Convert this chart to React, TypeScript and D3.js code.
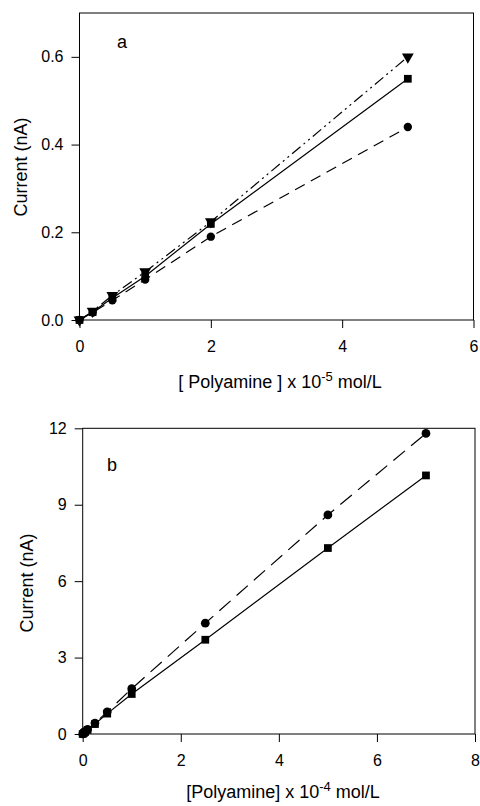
import React, { useRef, useEffect } from 'react';
import * as d3 from 'd3';

// panel a: [Polyamine] x 10^-5 mol/L vs current (nA)
const concA = [0, 0.2, 0.5, 1, 2, 5];
const triA = [0, 0.02, 0.056, 0.11, 0.224, 0.6];
const sqA = [0, 0.018, 0.05, 0.1, 0.219, 0.55];
const cirA = [0, 0.017, 0.045, 0.092, 0.19, 0.44];
const xTicksA = [0, 2, 4, 6];
const yTicksA = [0, 0.2, 0.4, 0.6];

// panel b: [Polyamine] x 10^-4 mol/L vs current (nA)
const concB = [0, 0.025, 0.05, 0.1, 0.25, 0.5, 1, 2.5, 5, 7];
const sqB = [0, 0.04, 0.08, 0.16, 0.39, 0.8, 1.57, 3.7, 7.3, 10.15];
const cirB = [0, 0.05, 0.09, 0.18, 0.43, 0.87, 1.78, 4.35, 8.6, 11.8];
const xTicksB = [0, 2, 4, 6, 8];
const yTicksB = [0, 3, 6, 9, 12];

const font = 'Arial, "Liberation Sans", sans-serif';

function drawPanel(g, opt) {
  const x = d3.scaleLinear().domain(opt.xDomain).range([opt.left, opt.right]);
  const y = d3.scaleLinear().domain(opt.yDomain).range([opt.bottom, opt.top]);

  g.append('rect')
    .attr('x', opt.left).attr('y', opt.top)
    .attr('width', opt.right - opt.left).attr('height', opt.bottom - opt.top)
    .attr('fill', 'none').attr('stroke', '#000').attr('stroke-width', 1);

  const xa = g.append('g')
    .attr('transform', 'translate(0,' + opt.bottom + ')')
    .call(d3.axisBottom(x).tickValues(opt.xTicks).tickSize(8).tickPadding(13).tickFormat(d3.format('d')));
  const ya = g.append('g')
    .attr('transform', 'translate(' + opt.left + ',0)')
    .call(d3.axisLeft(y).tickValues(opt.yTicks).tickSize(8).tickPadding(8).tickFormat(opt.yFormat));
  [xa, ya].forEach(a => {
    a.select('.domain').remove();
    a.selectAll('text').attr('font-size', 16).attr('font-family', font).attr('fill', '#000');
    a.selectAll('line').attr('stroke', '#000');
  });

  opt.series.forEach(s => {
    const pts = opt.conc.map((c, i) => [c, s.values[i]]);
    g.append('path')
      .attr('d', d3.line().x(d => x(d[0])).y(d => y(d[1]))(pts))
      .attr('fill', 'none').attr('stroke', '#000').attr('stroke-width', 1.2)
      .attr('stroke-dasharray', s.dash);
    const sym = d3.symbol().type(s.symbol).size(s.size);
    g.selectAll(null).data(pts).enter().append('path')
      .attr('d', sym)
      .attr('transform', d => 'translate(' + x(d[0]) + ',' + y(d[1]) + ')' + (s.flip ? ' rotate(180)' : ''))
      .attr('fill', '#000');
  });

  g.append('text')
    .attr('x', opt.tag[0]).attr('y', opt.tag[1])
    .attr('font-size', 18).attr('font-family', font)
    .text(opt.tagText);

  g.append('text')
    .attr('transform', 'translate(' + opt.yTitle[0] + ',' + opt.yTitle[1] + ') rotate(-90)')
    .attr('text-anchor', 'middle')
    .attr('font-size', 18).attr('font-family', font)
    .text('Current (nA)');

  const t = g.append('text')
    .attr('x', opt.xTitle[0]).attr('y', opt.xTitle[1])
    .attr('text-anchor', 'middle')
    .attr('font-size', 18).attr('font-family', font);
  t.append('tspan').text(opt.xTitleText[0]);
  t.append('tspan').attr('font-size', 13).attr('dy', -7).text(opt.xTitleText[1]);
  t.append('tspan').attr('dy', 7).text(opt.xTitleText[2]);
}

function App() {
  const ref = useRef(null);

  useEffect(() => {
    const svg = d3.select(ref.current);
    svg.selectAll('*').remove();

    drawPanel(svg.append('g'), {
      left: 79.5, right: 473.5, top: 13, bottom: 320,
      xDomain: [0, 6], yDomain: [0, 0.7],
      xTicks: xTicksA, yTicks: yTicksA, yFormat: d3.format('.1f'),
      conc: concA,
      series: [
        { values: triA, dash: '11,4,2,4,2,4', symbol: d3.symbolTriangle, size: 60, flip: true },
        { values: sqA, dash: null, symbol: d3.symbolSquare, size: 60 },
        { values: cirA, dash: '11,7', symbol: d3.symbolCircle, size: 55 },
      ],
      tag: [117, 48], tagText: 'a',
      yTitle: [27, 167],
      xTitle: [280, 388], xTitleText: ['[ Polyamine ] x 10', '-5', ' mol/L'],
    });

    drawPanel(svg.append('g'), {
      left: 82.7, right: 475, top: 428.3, bottom: 734,
      xDomain: [0, 8], yDomain: [0, 12],
      xTicks: xTicksB, yTicks: yTicksB, yFormat: d3.format('d'),
      conc: concB,
      series: [
        { values: cirB, dash: '15,8', symbol: d3.symbolCircle, size: 60 },
        { values: sqB, dash: null, symbol: d3.symbolSquare, size: 60 },
      ],
      tag: [107, 471], tagText: 'b',
      yTitle: [33, 583],
      xTitle: [283, 798], xTitleText: ['[Polyamine] x 10', '-4', ' mol/L'],
    });
  }, []);

  return <svg ref={ref} width={480} height={806} style={{ position: 'absolute', left: 0, top: 0, background: '#fff' }} />;
}

export default App;
